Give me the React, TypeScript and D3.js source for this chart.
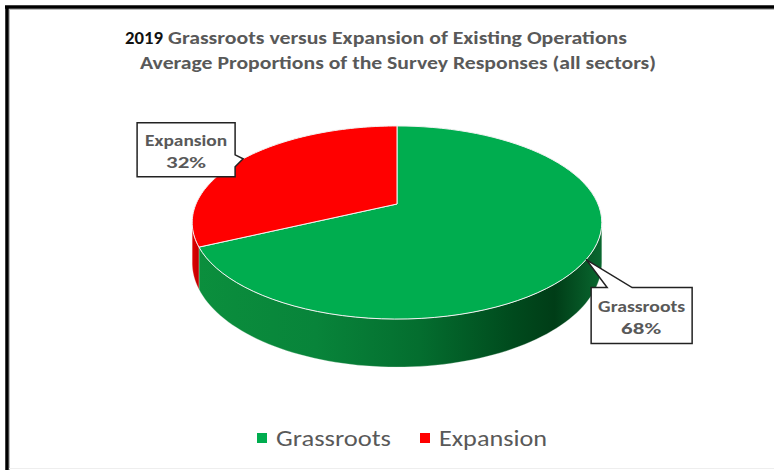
import React from "react";
import * as d3 from "d3";

const categories = ["Grassroots", "Expansion"];
const values = [68, 32];
const colors = ["#00AD4F", "#FF0000"];
const titleYear = "2019";
const titleLine1 = "Grassroots  versus Expansion of Existing Operations";
const titleLine2 = "Average Proportions  of the Survey Responses (all sectors)";

const W = 774, H = 470;
const cx = 397, cy = 204, A = 201, B = 93, K = 0.1917, DEPTH = 38.8;

function proj(t: number, r = 1, h = 0): [number, number] {
  const X = r * Math.sin(t);
  const d = r * Math.cos(t);
  const w = 1 + K * d;
  return [cx + (A * X) / w, cy - (B * d) / w + (DEPTH * h) / w];
}

function rim(a0: number, a1: number, h: number, n = 80): [number, number][] {
  const pts: [number, number][] = [];
  for (let i = 0; i <= n; i++) pts.push(proj(a0 + ((a1 - a0) * i) / n, 1, h));
  return pts;
}

const line = d3.line();

export default function App() {
  const arcs = d3.pie<number>().sort(null).value((d) => d)(values);
  const silR = Math.acos(-K);
  const silL = 2 * Math.PI - Math.acos(-K);

  const sides: { path: string; fill: string }[] = [];
  arcs.forEach((a, i) => {
    const s = Math.max(a.startAngle, silR);
    const e = Math.min(a.endAngle, silL);
    if (e > s) {
      const top = rim(s, e, 0);
      const bot = rim(s, e, 1).reverse();
      sides.push({ path: line([...top, ...bot])! + "Z", fill: i === 0 ? "url(#sideG)" : "url(#sideR)" });
    }
  });

  const tops = arcs.map((a, i) => {
    const pts = [proj(0, 0), ...rim(a.startAngle, a.endAngle, 0)];
    return { path: line(pts)! + "Z", fill: colors[i] };
  });

  const tips = arcs.map((a) => proj((a.startAngle + a.endAngle) / 2));
  const [gt, et] = tips;

  const labelFont = "Carlito, Lato, 'Open Sans', sans-serif";
  const grey = "#595959";
  const LA = "spacingAndGlyphs";

  const eb = { x: et[0] - 106, y: et[1] - 36, w: 98, h: 54 };
  const ePath = `M${eb.x},${eb.y}H${eb.x + eb.w}V${et[1] - 4}L${et[0]},${et[1]}L${eb.x + eb.w},${et[1] + 8}V${eb.y + eb.h}H${eb.x}Z`;
  const gb = { x: gt[0] + 5, y: gt[1] + 28, w: 101, h: 56 };
  const gPath = `M${gb.x},${gb.y}H${gb.x + 16}L${gt[0]},${gt[1]}L${gb.x + 41},${gb.y}H${gb.x + gb.w}V${gb.y + gb.h}H${gb.x}Z`;

  const legendX = [257, 420];
  const legendLen = [115, 108];

  return (
    <svg width={W} height={H} style={{ position: "absolute", left: 0, top: 0 }}>
      <defs>
        <linearGradient id="sideG" gradientUnits="userSpaceOnUse" x1={cx - 205} x2={cx + 207} y1={0} y2={0}>
          <stop offset="0" stopColor="#0b8f3d" />
          <stop offset="0.3" stopColor="#08843a" />
          <stop offset="0.55" stopColor="#046e2f" />
          <stop offset="0.78" stopColor="#004a1d" />
          <stop offset="0.88" stopColor="#003d17" />
          <stop offset="1" stopColor="#0a6a31" />
        </linearGradient>
        <linearGradient id="sideR" x1="0" x2="1" y1="0" y2="0">
          <stop offset="0" stopColor="#e00000" />
          <stop offset="1" stopColor="#c00000" />
        </linearGradient>
      </defs>
      <rect x={0} y={0} width={W} height={H} fill="#ffffff" />
      <line x1={7} y1={6} x2={7} y2={H} stroke="#000" strokeWidth={3.5} />
      <line x1={5} y1={7} x2={W} y2={7} stroke="#000" strokeWidth={3.5} />
      <line x1={9.5} y1={9} x2={9.5} y2={H} stroke="#bbb" strokeWidth={1} />
      <line x1={9} y1={9.5} x2={W} y2={9.5} stroke="#bbb" strokeWidth={1} />
      <line x1={9} y1={468.5} x2={W} y2={468.5} stroke="#eee" strokeWidth={1} />

      <text x={125} y={44} fontFamily={labelFont} fontSize={17} fontWeight={700} fill="#111" textLength={38} lengthAdjust={LA}>
        {titleYear}
      </text>
      <text x={168} y={44} fontFamily={labelFont} fontSize={17} fontWeight={700} fill={grey} textLength={459} lengthAdjust={LA}>
        {titleLine1}
      </text>
      <text x={140} y={69} fontFamily={labelFont} fontSize={17} fontWeight={700} fill={grey} textLength={516} lengthAdjust={LA}>
        {titleLine2}
      </text>

      {sides.map((s, i) => (
        <path key={"s" + i} d={s.path} fill={s.fill} stroke="#e8f0e8" strokeWidth={0.5} strokeOpacity={0.6} />
      ))}
      {tops.map((t, i) => (
        <path key={"t" + i} d={t.path} fill={t.fill} stroke="#f2f2f2" strokeWidth={1} strokeLinejoin="round" />
      ))}

      <path d={ePath} fill="#fff" stroke="#222" strokeWidth={1.5} />
      <text x={eb.x + 8} y={eb.y + 23} fontFamily={labelFont} fontSize={16} fontWeight={700} fill={grey} textLength={82} lengthAdjust={LA}>
        {categories[1]}
      </text>
      <text x={eb.x + 29} y={eb.y + 45} fontFamily={labelFont} fontSize={16} fontWeight={700} fill={grey} textLength={40} lengthAdjust={LA}>
        {values[1]}%
      </text>

      <path d={gPath} fill="#fff" stroke="#222" strokeWidth={1.5} />
      <text x={gb.x + 7} y={gb.y + 24} fontFamily={labelFont} fontSize={16} fontWeight={700} fill={grey} textLength={87} lengthAdjust={LA}>
        {categories[0]}
      </text>
      <text x={gb.x + 30} y={gb.y + 46} fontFamily={labelFont} fontSize={16} fontWeight={700} fill={grey} textLength={40} lengthAdjust={LA}>
        {values[0]}%
      </text>

      {categories.map((c, i) => {
        const x0 = legendX[i];
        return (
          <g key={"l" + i}>
            <rect x={x0} y={433} width={10} height={10} fill={colors[i]} />
            <text x={x0 + 19} y={446} fontFamily={labelFont} fontSize={22} fill={grey} textLength={legendLen[i]} lengthAdjust={LA}>
              {c}
            </text>
          </g>
        );
      })}
    </svg>
  );
}
